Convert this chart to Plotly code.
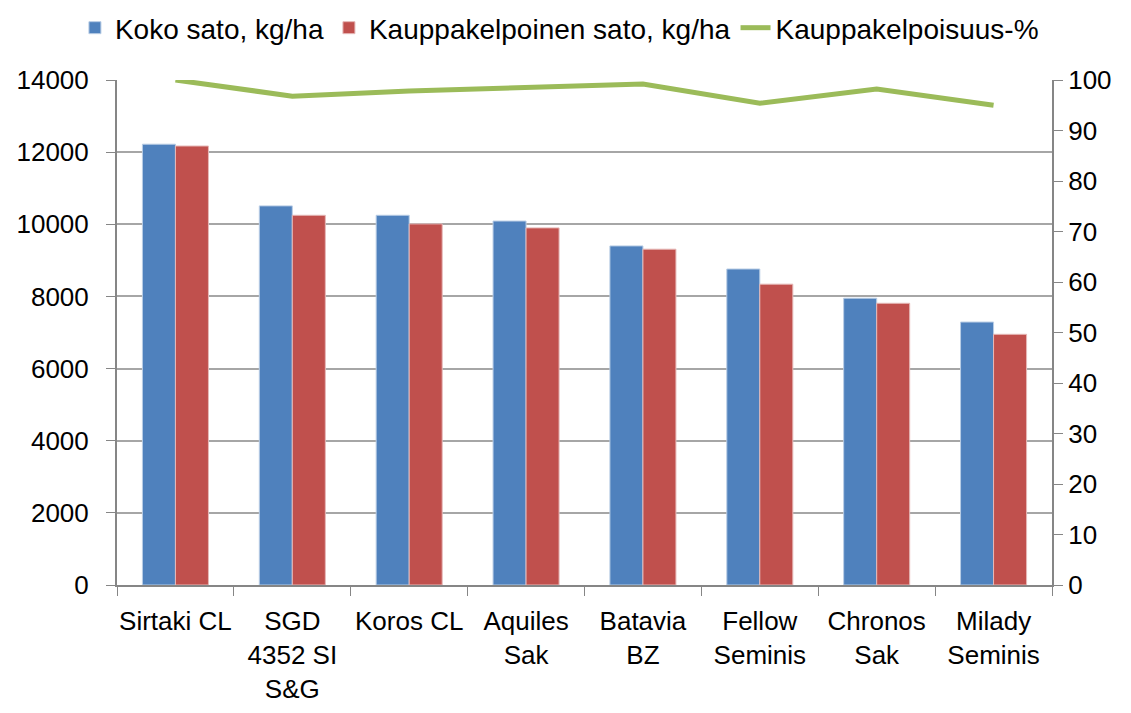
import plotly.graph_objects as go

# ── Data ──────────────────────────────────────────────────
lajikkeet = [
    "Sirtaki CL", "SGD<br>4352 SI<br>S&G", "Koros CL", "Aquiles<br>Sak",
    "Batavia<br>BZ", "Fellow<br>Seminis", "Chronos<br>Sak", "Milady<br>Seminis",
]
koko_sato = [12220, 10510, 10250, 10090, 9400, 8760, 7950, 7290]
kauppakelp_sato = [12170, 10250, 10010, 9900, 9310, 8340, 7810, 6950]
kauppakelp_pros = [100.0, 96.8, 97.8, 98.4, 99.2, 95.4, 98.2, 95.0]

FONT = "Liberation Sans, Arial, sans-serif"
GRID = "#a6a6a6"
AXIS = "#868686"

fig = go.Figure()

fig.add_trace(go.Bar(
    x=lajikkeet, y=koko_sato, name="Koko sato, kg/ha",
    marker=dict(color="#4F81BD", line=dict(color="#b9cde5", width=1)),
))
fig.add_trace(go.Bar(
    x=lajikkeet, y=kauppakelp_sato, name="Kauppakelpoinen sato, kg/ha",
    marker=dict(color="#C0504D", line=dict(color="#e6b9b8", width=1)),
))
fig.add_trace(go.Scatter(
    x=lajikkeet, y=kauppakelp_pros, name="Kauppakelpoisuus-%",
    mode="lines", yaxis="y2",
    line=dict(color="#9BBB59", width=5),
))

# page body has an 8px margin, so the figure is 8px smaller than the window
fig.update_layout(
    width=1123, height=705,
    margin=dict(l=109, r=79, t=72, b=128, autoexpand=False),
    paper_bgcolor="white", plot_bgcolor="white",
    font=dict(family=FONT, size=26, color="black"),
    barmode="group", bargap=0.435, bargroupgap=0.0,
    showlegend=True,
    # x < 0 lets the one-row legend use the left margin too, so it does not wrap
    legend=dict(orientation="h", x=-0.045, xanchor="left", y=1.103, yanchor="middle",
                font=dict(size=28), itemwidth=30, tracegroupgap=0),
    xaxis=dict(
        showline=True, linecolor=AXIS, linewidth=2, tickangle=0,
        ticks="outside", tickson="boundaries", ticklen=9, tickcolor=AXIS,
        tickwidth=1, showgrid=False, ticklabelstandoff=12,
    ),
    yaxis=dict(
        range=[0, 14000], dtick=2000, tickformat="d",
        showgrid=True, gridcolor=GRID, gridwidth=1.5,
        showline=True, linecolor=AXIS, linewidth=2,
        ticks="outside", ticklen=9, tickcolor=AXIS, zeroline=False,
        ticklabelstandoff=12,
    ),
    yaxis2=dict(
        range=[0, 100], dtick=10, overlaying="y", side="right", showgrid=False,
        showline=True, linecolor=AXIS, linewidth=2,
        ticks="outside", ticklen=9, tickcolor=AXIS, zeroline=False,
    ),
)

fig.write_html("out.html")
